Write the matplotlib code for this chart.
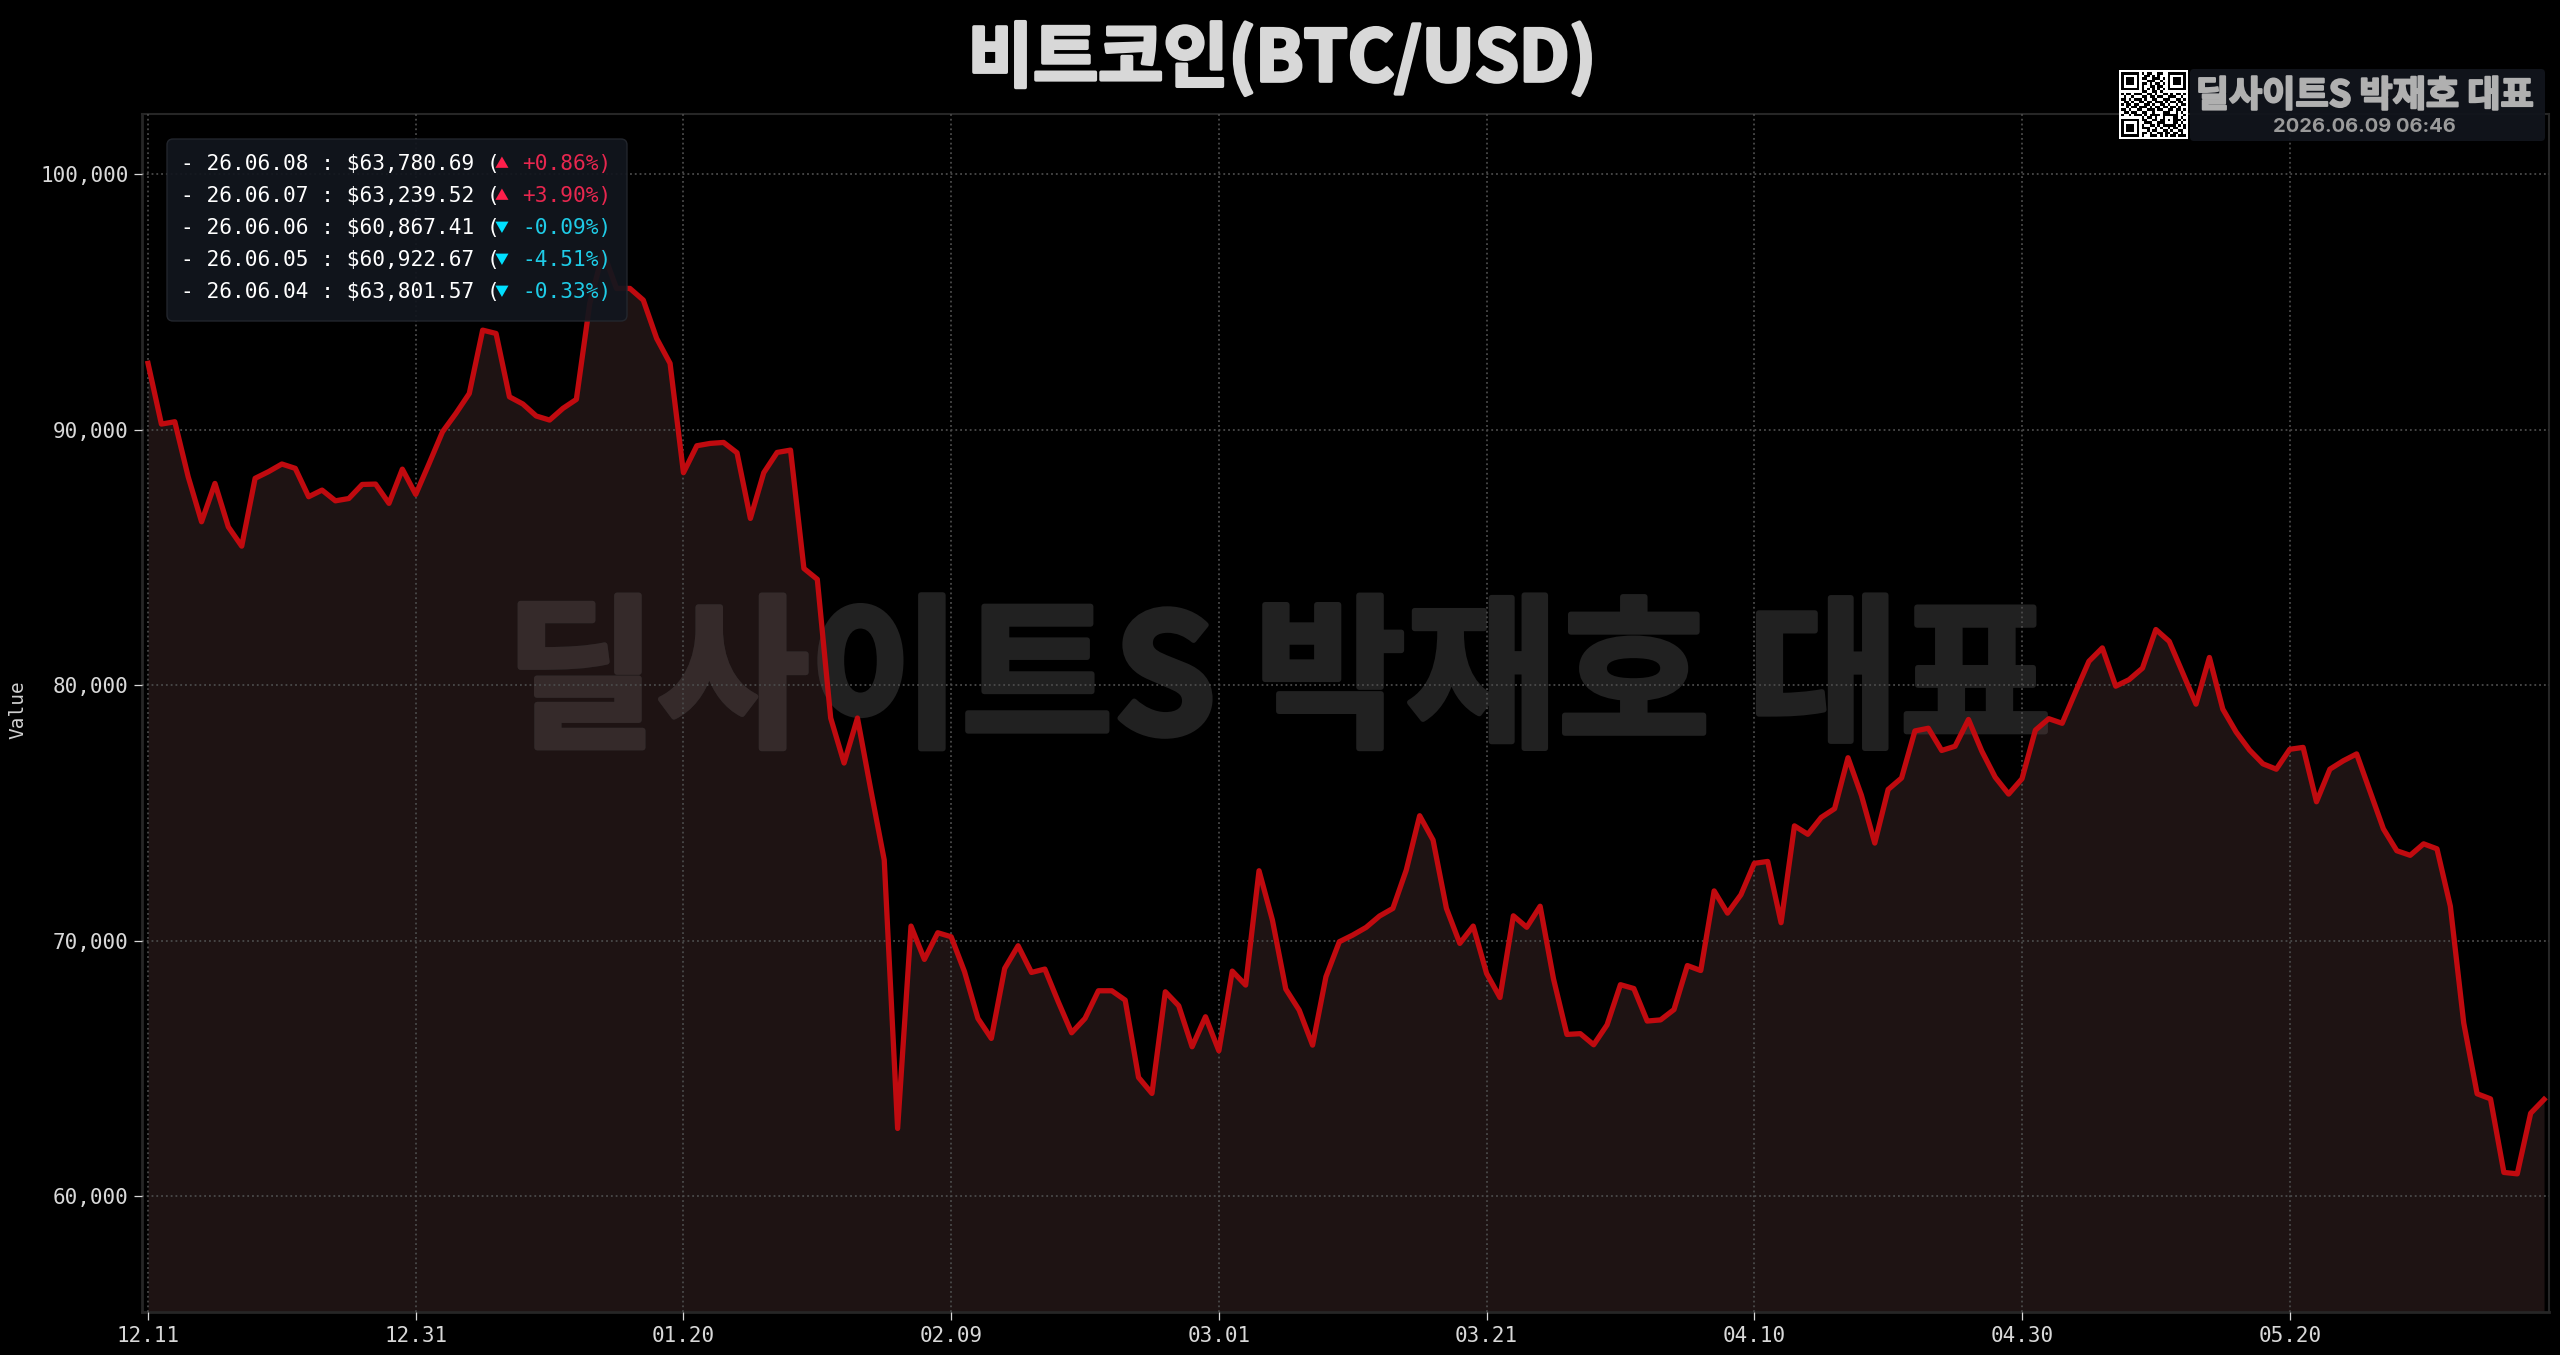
"""BTC/USD daily close chart on a dark background."""
import numpy as np
import matplotlib
matplotlib.use('Agg')
import matplotlib.pyplot as plt
from matplotlib import patheffects
from matplotlib.patches import FancyBboxPatch
from matplotlib.ticker import FuncFormatter
from matplotlib.transforms import IdentityTransform

W, H = 2560, 1355

close_values = [
    92590, 90213, 90305, 88150, 86390, 87890, 86190, 85435, 88090, 88350,
    88650, 88480, 87370, 87630, 87210, 87300, 87850, 87865, 87110, 88450,
    87460, 88670, 89910, 90630, 91410, 93890, 93760, 91280, 91000, 90530,
    90370, 90830, 91180, 94935, 96960, 95523, 95523, 95066, 93565, 92590,
    88310, 89365, 89457, 89495, 89091, 86520, 88310, 89104, 89195, 84563,
    84137, 78708, 76947, 78708, 75890, 73150, 62644, 70565, 69260, 70304,
    70147, 68777, 66950, 66167, 68908, 69795, 68751, 68882, 67603, 66389,
    66950, 68033, 68033, 67668, 64640, 64014, 67994, 67446, 65841, 67016,
    65684, 68803, 68255, 72731, 70800, 68099, 67276, 65906, 68582, 69952,
    70213, 70513, 70957, 71257, 72757, 74885, 73932, 71257, 69887, 70565,
    68712, 67770, 70967, 70518, 71342, 68496, 66324, 66354, 65919, 66698,
    68271, 68121, 66848, 66893, 67297, 69020, 68825, 71941, 71072, 71792,
    73020, 73095, 70698, 74488, 74158, 74817, 75162, 77154, 75686, 73814,
    75911, 76360, 78203, 78308, 77439, 77604, 78652, 77409, 76390, 75731,
    76330, 78233, 78682, 78502, 79731, 80929, 81453, 79955, 80210, 80660,
    82173, 81708, 80480, 79251, 81079, 79057, 78158, 77454, 76915, 76705,
    77484, 77559, 75431, 76705, 77034, 77304, 75836, 74368, 73514, 73334,
    73784, 73589, 71342, 66773, 64002, 63801.57, 60922.67, 60867.41,
    63239.52, 63780.69,
]
x_tick_pos = [0, 20, 40, 60, 80, 100, 120, 140, 160]
x_tick_labels = ['12.11', '12.31', '01.20', '02.09', '03.01', '03.21', '04.10', '04.30', '05.20']
y_ticks = [60000, 70000, 80000, 90000, 100000]

recent_dates = ['26.06.08', '26.06.07', '26.06.06', '26.06.05', '26.06.04']
recent_prices = ['$63,780.69', '$63,239.52', '$60,867.41', '$60,922.67', '$63,801.57']
recent_changes = ['+0.86%', '+3.90%', '-0.09%', '-4.51%', '-0.33%']

qr_rows = [
    '1111111010110011001111111',
    '1000001001101010001000001',
    '1011101011001110101011101',
    '1011101000111001001011101',
    '1011101011010110101011101',
    '1000001010011011001000001',
    '1111111010101010101111111',
    '0000000011001101000000000',
    '1011011100110100110101101',
    '0100100011011011001110010',
    '1101011101001100111001101',
    '0110100110110111010110110',
    '1011011001101001101001011',
    '0010110111010110110110100',
    '1101001100111011001101101',
    '0110110011001000111001010',
    '1001011101011110111111001',
    '0000000010110100100011010',
    '1111111011001101101011101',
    '1000001001110011100011010',
    '1011101010011010111110101',
    '1011101011100101001011001',
    '1011101000101100110100110',
    '1000001011010011011011010',
    '1111111010011101010110111',
]

KR = 'Noto Sans CJK KR'
MONO = 'DejaVu Sans Mono'

plt.rcParams['font.family'] = [KR, 'DejaVu Sans']

BG = '#000000'
LINE = '#c00a0f'
FILL = '#1e1313'
UP = '#e8274f'
DOWN = '#1fcbe6'


def fx(px):
    return px / W


def fy(py):
    return 1 - py / H


def heavy(width, color):
    # the source font is heavier than anything installed, thicken with a stroke
    return [patheffects.withStroke(linewidth=width, foreground=color)]


fig = plt.figure(figsize=(W / 100, H / 100), dpi=100, facecolor=BG)
ax = fig.add_axes([fx(142), fy(1312), fx(2549 - 142), (1312 - 114) / H], facecolor=BG)

x = np.arange(len(close_values))
ax.set_xlim(-0.45, 179.37)
ax.set_ylim(55460, 102350)
area = ax.fill_between(x, close_values, 55460, color=FILL, lw=0, zorder=1)
ax.plot(x, close_values, color=LINE, lw=3.8, solid_joinstyle='round', zorder=4)

# watermark, drawn twice so it can be lighter where it sits on the filled area
for color, clipped in (('#212121', False), ('#352a2a', True)):
    mark = ax.text(0.472, 0.523, '딜사이트S 박재호 대표', transform=ax.transAxes, ha='center', va='center',
                   fontsize=119, fontweight='bold', color=color, zorder=2,
                   path_effects=heavy(4, color))
    if clipped:
        mark.set_clip_on(True)
        mark.set_clip_path(area.get_paths()[0], transform=ax.transData)

ax.set_xticks(x_tick_pos)
ax.set_xticklabels(x_tick_labels)
ax.set_yticks(y_ticks)
ax.yaxis.set_major_formatter(FuncFormatter(lambda v, _: f'{int(v):,}'))
ax.tick_params(length=5.8, width=0.9, color='#d8d8d8', labelcolor='#d8d8d8', pad=4, labelsize=15)
for label in ax.get_xticklabels() + ax.get_yticklabels():
    label.set_family(MONO)
ax.grid(True, color='#4a4a4a', linestyle=':', linewidth=1.3, zorder=3)
ax.set_axisbelow(False)
for spine in ax.spines.values():
    spine.set_color('#262626')
    spine.set_linewidth(2)
ax.spines['top'].set_linewidth(1.5)
ax.spines['right'].set_linewidth(1.5)

fig.text(fx(18), fy(710), 'Value', rotation=90, ha='center', va='center',
         color='#d0d0d0', fontsize=14, family=MONO)
fig.text(fx(1282), fy(59), '비트코인(BTC/USD)', ha='center', va='center',
         color='#d8d8d8', fontsize=51, fontweight='bold', path_effects=heavy(2.5, '#d8d8d8'))

# recent closes box, one column per mono character
box = FancyBboxPatch((167 + 4, H - 321 + 4), 460 - 8, 182 - 8, boxstyle='round,pad=4,rounding_size=6',
                     transform=IdentityTransform(), facecolor='#12161e', edgecolor='#24282f',
                     linewidth=1, alpha=0.93, zorder=5)
fig.add_artist(box)
char_w = 12.6
for i, (d, p, c) in enumerate(zip(recent_dates, recent_prices, recent_changes)):
    py = 164 + i * 32
    up = c.startswith('+')
    col = UP if up else DOWN
    fig.text(fx(181), fy(py), f'- {d} : {p} (', color='white', fontsize=15.2,
             family=MONO, va='center', zorder=6)
    fig.text(fx(182 + 25 * char_w + 5), fy(py), '▲' if up else '▼', fontsize=10,
             color='#ff1f4b' if up else '#00e0ff', ha='center', va='center', zorder=6)
    fig.text(fx(182 + 27 * char_w), fy(py), f'{c})', color=col, fontsize=15.2,
             family=MONO, va='center', zorder=6)

# brand badge, top right
badge = FancyBboxPatch((2190 + 3, H - 141 + 3), 355 - 6, 72 - 6, boxstyle='round,pad=3,rounding_size=4',
                       transform=IdentityTransform(), facecolor='#11151c', edgecolor='none',
                       alpha=0.95, zorder=5)
fig.add_artist(badge)
fig.text(fx(2365), fy(96), '딜사이트S 박재호 대표', ha='center', va='center', color='#b0b0b0',
         fontsize=26, fontweight='bold', zorder=6, path_effects=heavy(1.5, '#b0b0b0'))
fig.text(fx(2364), fy(127), '2026.06.09 06:46', ha='center', va='center', color='#9a9a9a',
         fontsize=14.5, fontweight='bold', family='Inter', zorder=6)

qr_bg = FancyBboxPatch((2119, H - 139), 69, 69, boxstyle='square,pad=0', transform=IdentityTransform(),
                       facecolor='white', edgecolor='none', zorder=6.5)
fig.add_artist(qr_bg)
qr = np.array([[int(c) for c in row] for row in qr_rows])
qr_ax = fig.add_axes([fx(2119), fy(139), fx(69), 69 / H], zorder=7)
qr_ax.imshow(qr, cmap='gray_r', vmin=0, vmax=1, interpolation='nearest',
             extent=(0, 25, 25, 0), aspect='auto')
qr_ax.set_xlim(-0.8, 25.8)
qr_ax.set_ylim(25.8, -0.8)
qr_ax.axis('off')

fig.savefig('out.png', dpi=100, facecolor=BG)
